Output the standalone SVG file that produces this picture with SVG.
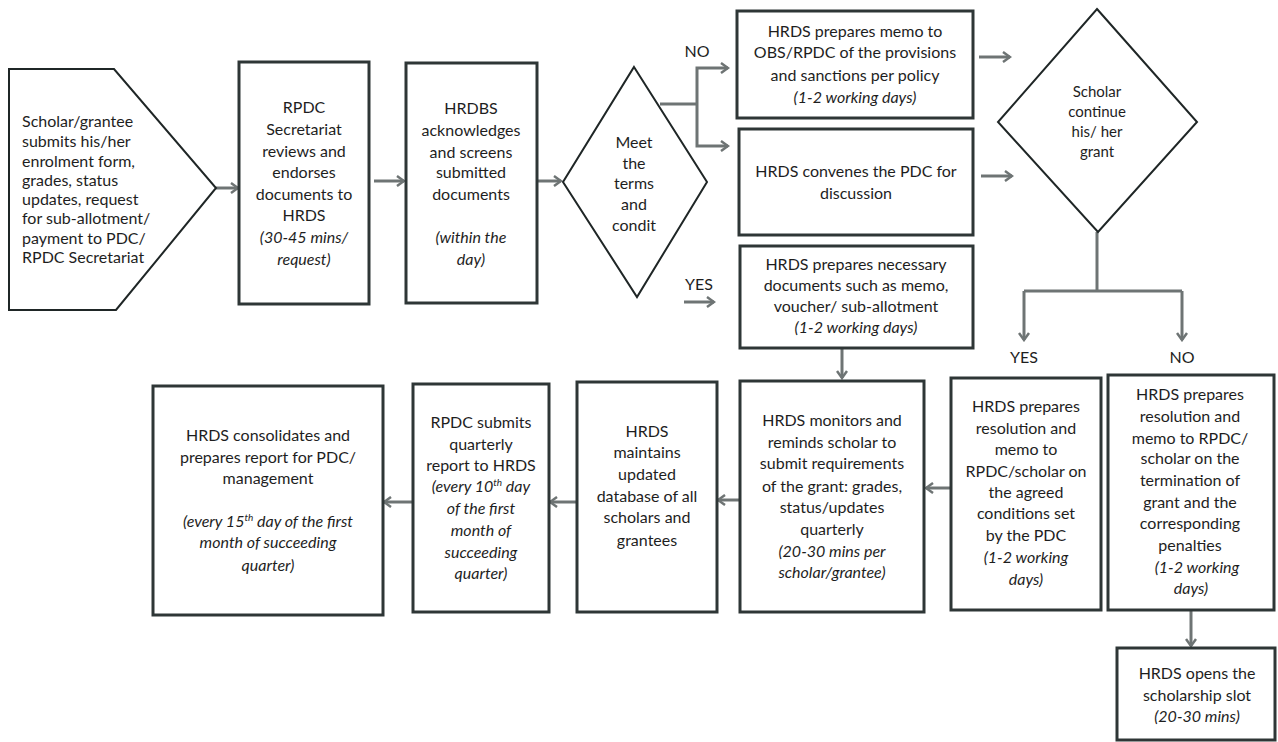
<svg xmlns="http://www.w3.org/2000/svg" width="1278" height="742" viewBox="0 0 1278 742">
  <style>
    .box { fill: #ffffff; stroke: #2e3636; stroke-width: 3; }
    .shape { fill: #ffffff; stroke: #1f2626; stroke-width: 2; }
    .t { font-family: "Lato", "Open Sans", "Liberation Sans", sans-serif; font-size: 16px; fill: #1e1e1e; text-anchor: middle; }
    .tl { text-anchor: start; }
    .i { font-style: italic; }
    .sm { font-size: 15px; }
    .conn { fill: none; stroke: #6e7474; stroke-width: 3; }
    .conn-a { fill: none; stroke: #6e7474; stroke-width: 3; marker-end: url(#arrow); }
  </style>
  <defs>
    <marker id="arrow" viewBox="0 0 12 12" markerWidth="12" markerHeight="12" markerUnits="userSpaceOnUse" refX="10" refY="6" orient="auto">
      <path d="M3,1 L10,6 L3,11" fill="none" stroke="#6e7474" stroke-width="2.5"/>
    </marker>
  </defs>
  <rect width="1278" height="742" fill="#ffffff"/>

  <!-- connectors -->
  <g id="connectors">
    <line class="conn-a" x1="216" y1="188" x2="238" y2="188"/>
    <line class="conn-a" x1="374" y1="181" x2="404" y2="181"/>
    <line class="conn-a" x1="538" y1="181" x2="561" y2="181"/>
    <polyline class="conn" points="660,104 697,104"/>
    <polyline class="conn-a" points="697,104 697,68 728,68"/>
    <polyline class="conn-a" points="697,104 697,146 728,146"/>
    <line class="conn-a" x1="684" y1="302" x2="714" y2="302"/>
    <line class="conn-a" x1="979" y1="57" x2="1010" y2="57"/>
    <line class="conn-a" x1="981" y1="176" x2="1012" y2="176"/>
    <line class="conn-a" x1="842" y1="348" x2="842" y2="378"/>
    <line class="conn" x1="1097" y1="232" x2="1097" y2="291"/>
    <polyline class="conn-a" points="1024,291 1024,340"/>
    <polyline class="conn-a" points="1182,291 1182,340"/>
    <line class="conn" x1="1024" y1="291" x2="1182" y2="291"/>
    <line class="conn-a" x1="951" y1="488" x2="926" y2="488"/>
    <line class="conn-a" x1="740" y1="500" x2="718" y2="500"/>
    <line class="conn-a" x1="577" y1="502" x2="550" y2="502"/>
    <line class="conn-a" x1="413" y1="502" x2="384" y2="502"/>
    <line class="conn-a" x1="1191" y1="610" x2="1191" y2="646"/>
    <text class="t" x="697" y="57">NO</text>
    <text class="t" x="699" y="290">YES</text>
    <text class="t" x="1024" y="363">YES</text>
    <text class="t" x="1182" y="363">NO</text>
  </g>

  <g id="submit">
    <polygon class="shape" points="9,69 114,69 216,188 116,310 9,310"/>
    <text class="t tl" x="22" y="127">Scholar/grantee</text>
    <text class="t tl" x="22" y="147">submits his/her</text>
    <text class="t tl" x="22" y="167">enrolment form,</text>
    <text class="t tl" x="22" y="186">grades, status</text>
    <text class="t tl" x="22" y="205">updates, request</text>
    <text class="t tl" x="22" y="224">for sub-allotment/</text>
    <text class="t tl" x="22" y="244">payment to PDC/</text>
    <text class="t tl" x="22" y="263">RPDC Secretariat</text>
  </g>

  <g id="rpdc-review">
    <rect class="box" x="239" y="62" width="130" height="242"/>
    <text class="t" x="304" y="113">RPDC</text>
    <text class="t" x="304" y="135">Secretariat</text>
    <text class="t" x="304" y="157">reviews and</text>
    <text class="t" x="304" y="178">endorses</text>
    <text class="t" x="304" y="200">documents to</text>
    <text class="t" x="304" y="221">HRDS</text>
    <text class="t i" x="304" y="243">(30-45 mins/</text>
    <text class="t i" x="304" y="265">request)</text>
  </g>

  <g id="hrdbs-screen">
    <rect class="box" x="406" y="63" width="131" height="240"/>
    <text class="t" x="471" y="114">HRDBS</text>
    <text class="t" x="471" y="136">acknowledges</text>
    <text class="t" x="471" y="158">and screens</text>
    <text class="t" x="471" y="178">submitted</text>
    <text class="t" x="471" y="200">documents</text>
    <text class="t i" x="471" y="243">(within the</text>
    <text class="t i" x="471" y="265">day)</text>
  </g>

  <g id="terms-decision">
    <polygon class="shape" points="634,67 707,182 637,297 563,182"/>
    <text class="t" x="634" y="148">Meet</text>
    <text class="t" x="634" y="169">the</text>
    <text class="t" x="634" y="189">terms</text>
    <text class="t" x="634" y="210">and</text>
    <text class="t" x="634" y="231">condit</text>
  </g>

  <g id="memo-sanctions">
    <rect class="box" x="737" y="11" width="236" height="107"/>
    <text class="t" x="855" y="37">HRDS prepares memo to</text>
    <text class="t" x="855" y="58">OBS/RPDC of the provisions</text>
    <text class="t" x="855" y="81">and sanctions per policy</text>
    <text class="t i" x="855" y="103">(1-2 working days)</text>
  </g>

  <g id="convene-pdc">
    <rect class="box" x="739" y="129" width="234" height="106"/>
    <text class="t" x="856" y="177">HRDS convenes the PDC for</text>
    <text class="t" x="856" y="199">discussion</text>
  </g>

  <g id="prepare-documents">
    <rect class="box" x="740" y="246" width="233" height="102"/>
    <text class="t" x="856" y="270">HRDS prepares necessary</text>
    <text class="t" x="856" y="291">documents such as memo,</text>
    <text class="t" x="856" y="312">voucher/ sub-allotment</text>
    <text class="t i" x="856" y="333">(1-2 working days)</text>
  </g>

  <g id="continue-decision">
    <polygon class="shape" points="1097,9 1197,122 1098,232 998,122"/>
    <text class="t sm" x="1097" y="97">Scholar</text>
    <text class="t sm" x="1097" y="117">continue</text>
    <text class="t sm" x="1097" y="137">his/ her</text>
    <text class="t sm" x="1097" y="157">grant</text>
  </g>

  <g id="resolution-yes">
    <rect class="box" x="951" y="378" width="150" height="232"/>
    <text class="t" x="1026" y="412">HRDS prepares</text>
    <text class="t" x="1026" y="434">resolution and</text>
    <text class="t" x="1026" y="455">memo to</text>
    <text class="t" x="1026" y="477">RPDC/scholar on</text>
    <text class="t" x="1026" y="498">the agreed</text>
    <text class="t" x="1026" y="519">conditions set</text>
    <text class="t" x="1026" y="541">by the PDC</text>
    <text class="t i" x="1026" y="563">(1-2 working</text>
    <text class="t i" x="1026" y="585">days)</text>
  </g>

  <g id="resolution-no">
    <rect class="box" x="1108" y="375" width="166" height="235"/>
    <text class="t" x="1190" y="400">HRDS prepares</text>
    <text class="t" x="1190" y="422">resolution and</text>
    <text class="t" x="1190" y="444">memo to RPDC/</text>
    <text class="t" x="1190" y="464">scholar on the</text>
    <text class="t" x="1190" y="486">termination of</text>
    <text class="t" x="1190" y="508">grant and the</text>
    <text class="t" x="1190" y="529">corresponding</text>
    <text class="t" x="1190" y="551">penalties</text>
    <text class="t i" x="1197" y="573">(1-2 working</text>
    <text class="t i" x="1191" y="594">days)</text>
  </g>

  <g id="open-slot">
    <rect class="box" x="1117" y="648" width="158" height="92"/>
    <text class="t" x="1197" y="679">HRDS opens the</text>
    <text class="t" x="1197" y="701">scholarship slot</text>
    <text class="t i" x="1197" y="722">(20-30 mins)</text>
  </g>

  <g id="monitor">
    <rect class="box" x="740" y="381" width="184" height="231"/>
    <text class="t" x="832" y="426">HRDS monitors and</text>
    <text class="t" x="832" y="448">reminds scholar to</text>
    <text class="t" x="832" y="469">submit requirements</text>
    <text class="t" x="832" y="492">of the grant: grades,</text>
    <text class="t" x="832" y="513">status/updates</text>
    <text class="t" x="832" y="535">quarterly</text>
    <text class="t i" x="832" y="557">(20-30 mins per</text>
    <text class="t i" x="832" y="578">scholar/grantee)</text>
  </g>

  <g id="database">
    <rect class="box" x="577" y="382" width="140" height="230"/>
    <text class="t" x="647" y="437">HRDS</text>
    <text class="t" x="647" y="458">maintains</text>
    <text class="t" x="647" y="480">updated</text>
    <text class="t" x="647" y="502">database of all</text>
    <text class="t" x="647" y="523">scholars and</text>
    <text class="t" x="647" y="546">grantees</text>
  </g>

  <g id="quarterly-report">
    <rect class="box" x="413" y="384" width="136" height="228"/>
    <text class="t" x="481" y="428">RPDC submits</text>
    <text class="t" x="481" y="450">quarterly</text>
    <text class="t" x="481" y="471">report to HRDS</text>
    <text class="t i" x="481" y="492">(every 10<tspan font-size="10" dy="-6">th</tspan><tspan dy="6"> day</tspan></text>
    <text class="t i" x="481" y="514">of the first</text>
    <text class="t i" x="481" y="536">month of</text>
    <text class="t i" x="481" y="558">succeeding</text>
    <text class="t i" x="481" y="579">quarter)</text>
  </g>

  <g id="consolidate">
    <rect class="box" x="153" y="386" width="230" height="229"/>
    <text class="t" x="268" y="441">HRDS consolidates and</text>
    <text class="t" x="268" y="463">prepares report for PDC/</text>
    <text class="t" x="268" y="484">management</text>
    <text class="t i" x="268" y="527">(every 15<tspan font-size="10" dy="-6">th</tspan><tspan dy="6"> day of the first</tspan></text>
    <text class="t i" x="268" y="548">month of succeeding</text>
    <text class="t i" x="268" y="571">quarter)</text>
  </g>
</svg>
